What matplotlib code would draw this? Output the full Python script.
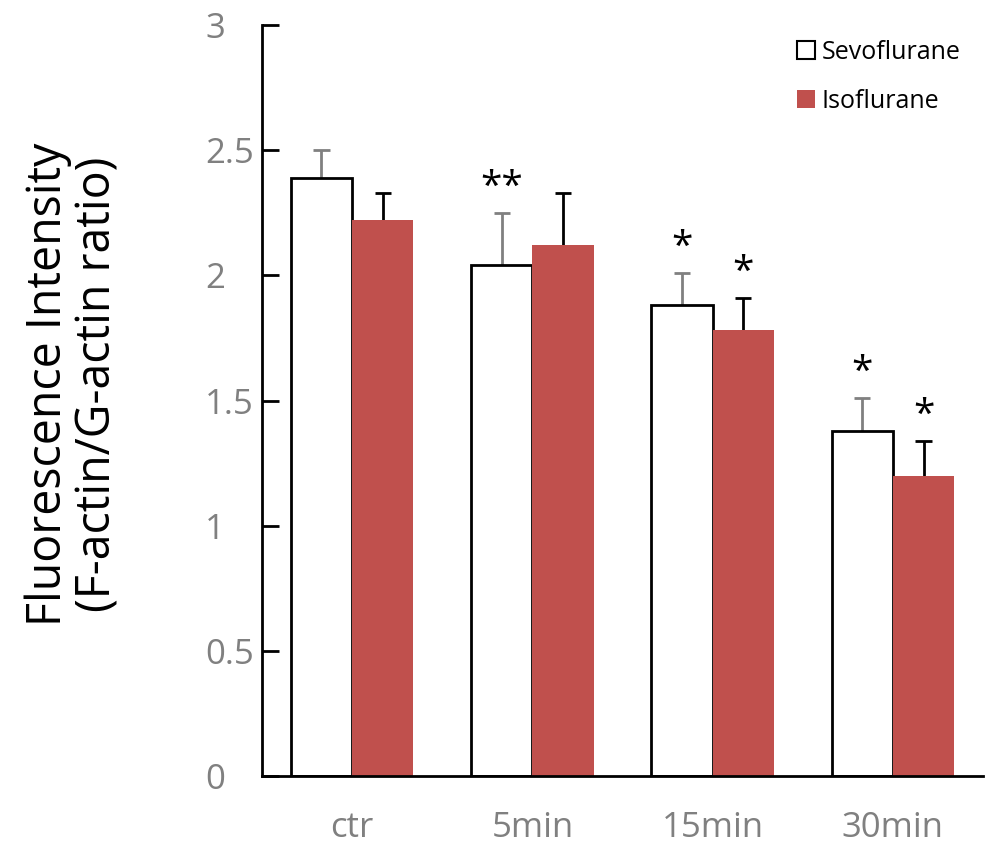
import numpy as np
import matplotlib
matplotlib.use("Agg")
import matplotlib.pyplot as plt
from matplotlib.patches import Patch

plt.rcParams['font.family'] = ['Open Sans', 'DejaVu Sans']

groups = ["ctr", "5min", "15min", "30min"]
sevo = [2.39, 2.04, 1.88, 1.38]
sevo_err = [0.11, 0.21, 0.13, 0.13]
iso = [2.22, 2.12, 1.78, 1.20]
iso_err = [0.11, 0.21, 0.13, 0.14]
sevo_marks = ["", "**", "*", "*"]
iso_marks = ["", "", "*", "*"]

RED = "#c0504d"
W = 0.34
CAP = 0.045

fig = plt.figure(figsize=(9.86, 8.47), dpi=100)
ax = fig.add_axes([0.2657, 0.0838, 0.7313, 0.8867])

x = np.arange(len(groups))
xs = x - W / 2
xi = x + W / 2
sevo = np.array(sevo); sevo_err = np.array(sevo_err)
iso = np.array(iso); iso_err = np.array(iso_err)

# upper-only error bars, drawn behind the bars
ax.vlines(xs, sevo, sevo + sevo_err, color="#808080", lw=2, zorder=1)
ax.hlines(sevo + sevo_err, xs - CAP, xs + CAP, color="#808080", lw=2, zorder=1)
ax.vlines(xi, iso, iso + iso_err, color="black", lw=2, zorder=1)
ax.hlines(iso + iso_err, xi - CAP, xi + CAP, color="black", lw=2, zorder=1)

ax.bar(xs, sevo, W, color="white", edgecolor="black", linewidth=2, zorder=2)
ax.bar(xi, iso, W, color=RED, edgecolor="none", zorder=2)

for i in range(len(groups)):
    if sevo_marks[i]:
        ax.text(xs[i], sevo[i] + sevo_err[i] + 0.1, sevo_marks[i],
                ha="center", va="center", fontsize=28, color="black")
    if iso_marks[i]:
        ax.text(xi[i], iso[i] + iso_err[i] + 0.1, iso_marks[i],
                ha="center", va="center", fontsize=28, color="black")

ax.set_xlim(-0.5, 3.5)
ax.set_ylim(0, 3)
ax.set_yticks([0, 0.5, 1, 1.5, 2, 2.5, 3])
ax.set_yticklabels(["0", "0.5", "1", "1.5", "2", "2.5", "3"])
ax.set_xticks(x)
ax.set_xticklabels(groups)
ax.tick_params(axis="y", direction="in", length=12, width=2, labelsize=25,
               labelcolor="#808080", pad=41)
for lab in ax.get_yticklabels():
    lab.set_horizontalalignment("left")
ax.tick_params(axis="x", length=0, labelsize=25, labelcolor="#808080", pad=25)
for s in ["top", "right"]:
    ax.spines[s].set_visible(False)
for s in ["left", "bottom"]:
    ax.spines[s].set_linewidth(2)

ax.set_ylabel("Fluorescence Intensity\n(F-actin/G-actin ratio)", fontsize=33.5,
              linespacing=1.05)
ax.yaxis.set_label_coords(-0.195, 0.522)

handles = [Patch(facecolor="white", edgecolor="black", linewidth=1.5),
           Patch(facecolor=RED, edgecolor="none")]
ax.legend(handles, ["Sevoflurane", "Isoflurane"], loc="upper right",
          bbox_to_anchor=(1.0, 1.01), frameon=False, fontsize=18,
          handlelength=0.75, handleheight=0.75, handletextpad=0.25,
          labelspacing=0.95)

fig.savefig("out.png", dpi=100)
